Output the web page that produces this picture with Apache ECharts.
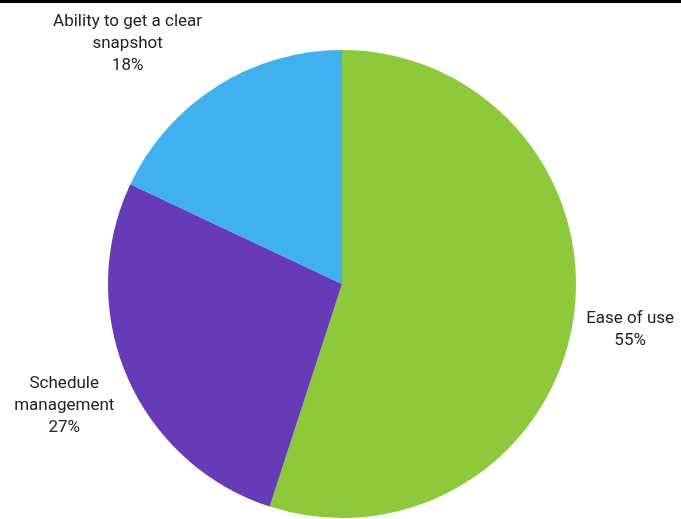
<!DOCTYPE html>
<html>
<head>
<meta charset="utf-8">
<script src="https://cdn.jsdelivr.net/npm/echarts@6/dist/echarts.min.js"></script>
<style>
  html, body { margin: 0; padding: 0; background: #fff; }
  #chart { width: 681px; height: 519px; }
</style>
</head>
<body>
<div id="chart"></div>
<script>
// Slice names (with line breaks for the outside labels), shares and colours
const categories = ['Ease of use', 'Schedule\nmanagement', 'Ability to get a clear\nsnapshot'];
const values = [55, 27, 18];
const colors = ['#8DC93B', '#673AB7', '#41B0EE'];

// Label nudges away from the slice edge, per slice
const labelShift = [[57, 9], [-63, 29], [-89, -43]];

const chart = echarts.init(document.getElementById('chart'));
chart.setOption({
  animation: false,
  graphic: [{
    type: 'rect',
    shape: { x: 0, y: 0, width: 681, height: 3 },
    style: { fill: '#000' }
  }],
  series: [{
    type: 'pie',
    center: [342, 284],
    radius: 234,
    startAngle: 90,
    clockwise: true,
    data: categories.map((c, i) => ({
      name: c,
      value: values[i],
      itemStyle: { color: colors[i] }
    })),
    label: {
      show: true,
      position: 'outside',
      formatter: '{b}\n{d}%',
      fontFamily: 'Roboto',
      fontSize: 17,
      lineHeight: 22,
      color: '#222',
      distanceToLabelLine: 0
    },
    labelLine: { show: false, length: 0, length2: 0 },
    labelLayout: function (p) {
      const s = labelShift[p.dataIndex];
      return { align: 'center', verticalAlign: 'middle', dx: s[0], dy: s[1] };
    }
  }]
});
</script>
</body>
</html>
